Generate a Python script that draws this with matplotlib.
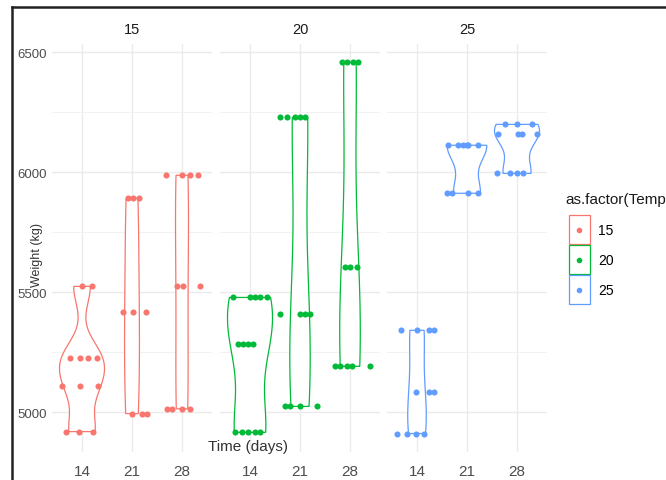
import numpy as np
import matplotlib
matplotlib.use("Agg")
from matplotlib import pyplot as plt
from matplotlib.patches import Patch
from matplotlib.lines import Line2D
from matplotlib.legend_handler import HandlerBase, HandlerPatch

plt.rcParams['font.family'] = ['Liberation Sans', 'DejaVu Sans']

temps = [15, 20, 25]
days = ["14", "21", "28"]
colors = ["#F8766D", "#00BA38", "#619CFF"]

# weights (kg) per temperature, one list per day
weight_15 = [[5525, 5525, 5225, 5225, 5225, 5225, 5110, 5110, 5110, 4920, 4920, 4920],
             [5892, 5892, 5892, 5417, 5417, 5417, 4995, 4995, 4995],
             [5988, 5988, 5988, 5988, 5525, 5525, 5525, 5015, 5015, 5015, 5015]]
weight_20 = [[5479, 5479, 5479, 5479, 5479, 5287, 5287, 5287, 5287, 4917, 4917, 4917, 4917, 4917],
             [6229, 6229, 6229, 6229, 6229, 5408, 5408, 5408, 5408, 5025, 5025, 5025, 5025],
             [6458, 6458, 6458, 6458, 5604, 5604, 5604, 5192, 5192, 5192, 5192, 5192]]
weight_25 = [[5342, 5342, 5342, 5342, 5083, 5083, 5083, 4912, 4912, 4912, 4912],
             [6113, 6113, 6113, 6113, 6113, 6113, 5913, 5913, 5913, 5913],
             [6200, 6200, 6200, 6158, 6158, 6158, 6158, 5996, 5996, 5996, 5996]]

# horizontal jitter of the points (in 1/50 of a category)
jitter_15 = [[0, 10, -12, -2, 6, 15, -20, -2, 16, -16, -3, 11],
             [-4, 1, 7, -9, 1, 14, 0, 10, 15],
             [-16, 0, 8, 16, -5, 1, 18, -15, -10, 0, 8]]
jitter_20 = [[-17, 0, 5, 10, 17, -12, -7, -2, 3, -15, -8, -2, 5, 10],
             [-20, -13, -5, 0, 5, -20, 0, 5, 10, -15, -10, 0, 17],
             [-8, -3, 3, 8, -5, 0, 7, -15, -10, -3, 2, 20]]
jitter_25 = [[-16, 0, 12, 17, -1, 12, 17, -20, -10, -1, 7],
             [-19, -9, -4, 0, 1, 11, -20, -15, 1, 11],
             [-12, 0, 15, -19, 1, 5, 20, -20, -7, 0, 6]]

weights = [weight_15, weight_20, weight_25]
jitters = [jitter_15, jitter_20, jitter_25]


def bw_nrd0(x):
    x = np.asarray(x, float)
    sd = x.std(ddof=1)
    iqr = np.subtract(*np.percentile(x, [75, 25]))
    lo = min(sd, iqr / 1.34) if iqr > 0 else sd
    return 0.9 * lo * len(x) ** -0.2


def kde(x, adjust=1.2):
    x = np.asarray(x, float)
    bw = bw_nrd0(x) * adjust
    grid = np.linspace(x.min(), x.max(), 512)
    d = np.exp(-0.5 * ((grid[:, None] - x[None, :]) / bw) ** 2).sum(1)
    d /= len(x) * bw * np.sqrt(2 * np.pi)
    return grid, d


class CenterDot(HandlerBase):
    def create_artists(self, legend, orig, xdescent, ydescent, width, height, fontsize, trans):
        dot = Line2D([width / 2 - xdescent], [height / 2 - ydescent], marker="o", ls="none",
                     color=orig.get_color(), ms=orig.get_markersize(), transform=trans)
        return [dot]


class KeyBox(HandlerBase):
    def create_artists(self, legend, orig, xdescent, ydescent, width, height, fontsize, trans):
        box = HandlerPatch().create_artists(legend, orig[0], xdescent, ydescent,
                                            width, height, fontsize, trans)
        dot = CenterDot().create_artists(legend, orig[1], xdescent, ydescent,
                                         width, height, fontsize, trans)
        return box + dot


W, H = 666, 481
fig = plt.figure(figsize=(6.66, 4.81), dpi=100)
lefts = [52, 220, 387]
pw = 160
top, bot = 45, 453

for p in range(3):
    ax = fig.add_axes([lefts[p] / W, 1 - bot / H, pw / W, (bot - top) / H])
    dens = [kde(v) for v in weights[p]]
    dmax = max(d.max() for g, d in dens)
    for i, (g, d) in enumerate(dens):
        hw = 0.45 * d / dmax
        xs = np.concatenate([i - hw, (i + hw)[::-1], [i - hw[0]]])
        ys = np.concatenate([g, g[::-1], [g[0]]])
        ax.fill(xs, ys, facecolor="white", edgecolor=colors[p], lw=0.9, zorder=2)
        xj = i + np.array(jitters[p][i]) / 50.0
        ax.plot(xj, weights[p][i], "o", color=colors[p], ms=4.4, mec="none", zorder=3)
    ax.set_xticks(range(3))
    ax.set_xticklabels(days)
    ax.set_yticks([5000, 5500, 6000, 6500])
    ax.set_yticks([4750, 5250, 5750, 6250], minor=True)
    ax.set_xlim(-0.6, 2.6)
    ax.set_ylim(4835, 6535)
    ax.grid(True, which="major", color="#EBEBEB", lw=1.0, zorder=0)
    ax.grid(True, which="minor", axis="y", color="#F2F2F2", lw=0.8, zorder=0)
    ax.set_axisbelow(True)
    for s in ax.spines.values():
        s.set_visible(False)
    ax.tick_params(which="both", length=0, colors="#4D4D4D", labelsize=11, pad=9)
    ax.tick_params(axis="y", labelsize=9.5, pad=4)
    if p > 0:
        ax.set_yticklabels([])
    ax.set_title(str(temps[p]), fontsize=10.5, color="#1A1A1A", pad=8)

fig.text(37 / W, 1 - 255 / H, "Weight (kg)", rotation=90, fontsize=9, color="#333333",
         ha="center", va="center")
fig.text(248 / W, 1 - 447 / H, "Time (days)", fontsize=11, color="#333333",
         ha="center", va="center")

fig.text(565 / W, 1 - 200 / H, "as.factor(Temp)", fontsize=11, color="#1A1A1A",
         ha="left", va="center")
handles = [(Patch(facecolor="white", edgecolor=c, lw=0.9),
            Line2D([], [], marker="o", color=c, ls="none", ms=3)) for c in colors]
fig.legend(handles, [str(t) for t in temps], handler_map={tuple: KeyBox()},
           loc="upper left", bbox_to_anchor=(569 / W, 1 - 216 / H), frameon=False,
           fontsize=10, handlelength=1.5, handleheight=2.84,
           labelspacing=0.08, handletextpad=0.6, borderpad=0, borderaxespad=0)

# screenshot frame
fig.add_artist(Line2D([12 / W, 12 / W], [0, 1 - 8 / H], color="#222222", lw=1.8,
                      transform=fig.transFigure))
fig.add_artist(Line2D([12 / W, 1], [1 - 8 / H, 1 - 8 / H], color="#222222", lw=1.8,
                      transform=fig.transFigure))

fig.savefig("out.png", dpi=100)
